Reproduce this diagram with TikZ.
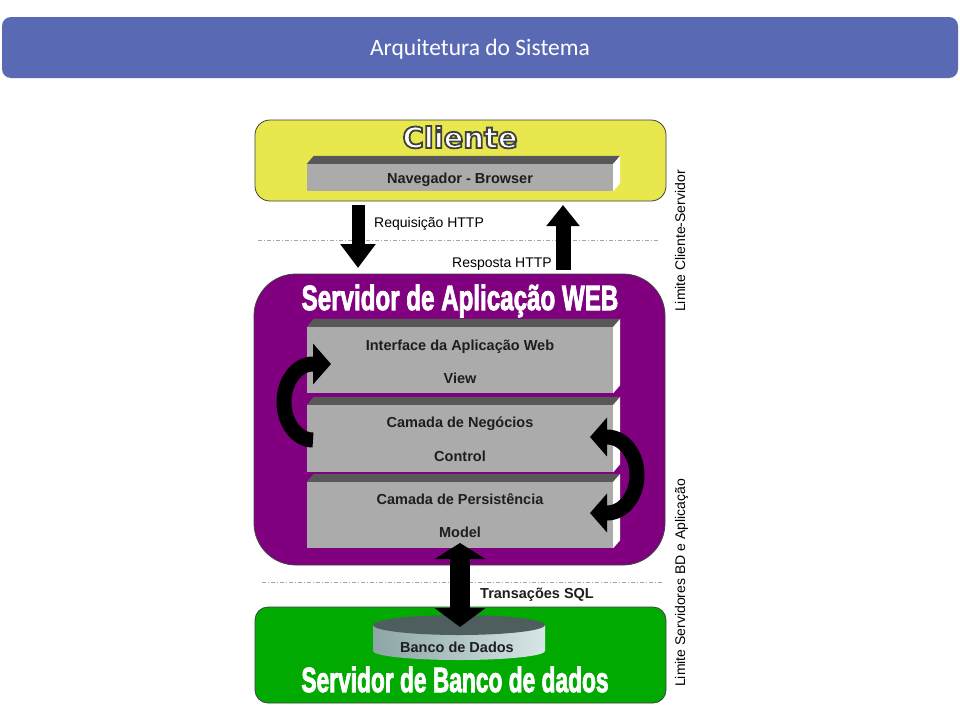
\documentclass[tikz,border=0pt]{standalone}
\usepackage{fontspec}
\usepackage{graphicx}
\setmainfont{Liberation Sans}
\newfontfamily\carl{Carlito}
\newfontfamily\djv{DejaVu Sans}
\usetikzlibrary{arrows.meta}

\definecolor{hdr}{RGB}{90,105,180}
\definecolor{cliy}{RGB}{232,232,78}
\definecolor{appp}{RGB}{128,0,128}
\definecolor{dbg}{RGB}{0,170,0}
\definecolor{lfront}{RGB}{171,171,171}
\definecolor{ltop}{RGB}{88,88,88}
\definecolor{bord}{RGB}{64,64,64}
\definecolor{txt}{RGB}{30,30,30}
\definecolor{cyltop}{RGB}{78,94,94}
\definecolor{cylL}{RGB}{140,165,165}
\definecolor{cylM}{RGB}{185,205,205}
\definecolor{cylR}{RGB}{215,230,230}

% outlined text: fill white, stroke dark (PDF text render mode 2)
\newcommand{\outlinedtext}[2]{% #1 stroke width, #2 stroke rgb
  \special{pdf:code q 2 Tr #1 w #2 RG 1 1 1 rg}}
\newcommand{\outlinedend}{\special{pdf:code Q}}

\tikzset{
  region/.style={draw=bord, line width=0.8pt, inner sep=0pt, minimum width=411pt},
  layerbox/.style={fill=lfront, inner sep=0pt, minimum width=306pt},
  lbl/.style={font=\bfseries\fontsize{14.5}{17}\selectfont, text=txt, inner sep=0pt, anchor=base},
  note/.style={font=\fontsize{14}{16}\selectfont, text=black, inner sep=0pt, anchor=base},
  bigtitle/.style={text=white, inner sep=0pt, anchor=base},
  limite/.style={draw=gray!70, line width=0.8pt, dash pattern=on 4pt off 2pt on 1pt off 2pt},
  curv/.style={line width=15pt, line cap=butt},
}

\newcommand{\layerfaces}[1]{%
  \fill[ltop] (#1.north west) -- ++(7,-8) -- ([xshift=7pt,yshift=8pt]#1.north east) -- (#1.north east) -- cycle;
  \fill[white] (#1.north east) -- ++(7,-8) -- ([xshift=7pt,yshift=8pt]#1.south east) -- (#1.south east) -- cycle;
}

\begin{document}
\begin{tikzpicture}[x=1pt,y=-1pt]
\useasboundingbox (0,0) rectangle (960,720);
\fill[white] (0,0) rectangle (960,720);

% header
\node[fill=hdr, rounded corners=9pt, minimum width=956pt, minimum height=61pt, inner sep=0pt] (hdr) at (480,47.5) {};
\node[text=white, inner sep=0pt, anchor=base, font=\carl\fontsize{23.5}{26}\selectfont] (hdrt) at (480,55) {Arquitetura do Sistema};

% regions
\node[region, fill=cliy, rounded corners=15pt, minimum height=81pt] (cliente) at (460.5,160.5) {};
\node[region, fill=appp, rounded corners=42pt, minimum height=291pt] (app) at (459.5,419.5) {};
\node[region, fill=dbg, rounded corners=13pt, minimum height=96pt] (db) at (460.5,655) {};

% limit lines
\coordinate (l1a) at (258,240); \coordinate (l1b) at (658,240);
\coordinate (l2a) at (262,582); \coordinate (l2b) at (662,582);
\draw[limite] (l1a) -- (l1b);
\draw[limite] (l2a) -- (l2b);

% titles
\node[inner sep=0pt, anchor=base, text=white] (clientet) at (460,148) {\djv\bfseries\fontsize{29}{31}\selectfont\outlinedtext{1.8}{0.25 0.25 0.25}Cliente\outlinedend};
\node[bigtitle] (appt) at (460,310) {\scalebox{0.69}[1]{\bfseries\fontsize{35}{40}\selectfont\outlinedtext{1.0}{1 1 1}Servidor de Aplicação WEB\outlinedend}};
\node[bigtitle] (dbt) at (455,692) {\scalebox{0.65}[1]{\bfseries\fontsize{35}{40}\selectfont\outlinedtext{1.0}{1 1 1}Servidor de Banco de dados\outlinedend}};

% layers
\node[layerbox, minimum height=27pt] (nav) at (460,177.5) {};
\layerfaces{nav}
\node[lbl] (navt) at (460,183) {Navegador - Browser};

\node[layerbox, minimum height=66pt] (view) at (460,360) {};
\layerfaces{view}
\node[lbl] (viewt1) at (460,350) {Interface da Aplicação Web};
\node[lbl] (viewt2) at (460,383) {View};

\node[layerbox, minimum height=67pt] (ctrl) at (460,438.5) {};
\layerfaces{ctrl}
\node[lbl] (ctrlt1) at (460,427) {Camada de Negócios};
\node[lbl] (ctrlt2) at (460,461) {Control};

\node[layerbox, minimum height=66pt] (model) at (460,515) {};
\layerfaces{model}
\node[lbl] (modelt1) at (460,504) {Camada de Persistência};
\node[lbl] (modelt2) at (460,537) {Model};

% database cylinder
\shade[left color=cylL, middle color=cylM, right color=cylR] (373,625) -- (373,651) arc[start angle=180, end angle=0, x radius=86, y radius=9] -- (545,625) -- cycle;
\fill[cyltop] (459,625) ellipse[x radius=86, y radius=10];
\node[lbl] (bd) at (457,652) {Banco de Dados};

% HTTP arrows
\coordinate (reqa) at (358,205); \coordinate (reqb) at (358,268);
\coordinate (resa) at (563,270); \coordinate (resb) at (563,205);
\draw[line width=13pt, -{Triangle[width=34pt,length=24pt]}] (reqa) -- (reqb);
\draw[line width=15pt, -{Triangle[width=32pt,length=21pt]}] (resa) -- (resb);
\node[note, anchor=base west] (req) at (374,227) {Requisição HTTP};
\node[note, anchor=base east] (res) at (552,267) {Resposta HTTP};

% SQL arrow
\coordinate (sqla) at (460,543); \coordinate (sqlb) at (460,627);
\draw[line width=20pt, {Triangle[width=50pt,length=16pt]}-{Triangle[width=50pt,length=19pt]}] (sqla) -- (sqlb);
\node[lbl, anchor=base west] (sql) at (480,598) {Transações SQL};

% curved arrows
\coordinate (ca1) at (313,440);
\coordinate (ca2) at (590,437);
\draw[curv, -{Triangle[width=40pt,length=18pt]}] (ca1) arc[start angle=90, end angle=270, x radius=29, y radius=38] -- ++(18,0);
\draw[curv, {Triangle[width=38pt,length=17pt]}-{Triangle[width=38pt,length=17pt]}] (ca2) -- ++(17,0) arc[start angle=-90, end angle=90, x radius=30, y radius=38] -- ++(-17,0);

% side labels
\node[note, rotate=90] (lim1) at (685,241) {Limite Cliente-Servidor};
\node[note, rotate=90] (lim2) at (685,583) {Limite Servidores BD e Aplicação};
\end{tikzpicture}
\end{document}
